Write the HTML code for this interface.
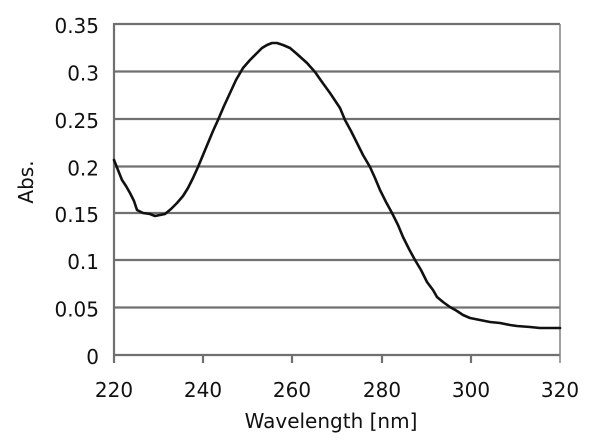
<!DOCTYPE html>
<html><head><meta charset="utf-8"><style>
html,body{margin:0;padding:0;background:#fff;}
svg{display:block;}
text{font-family:"DejaVu Sans","Liberation Sans",sans-serif;fill:#111;}
</style></head><body>
<svg width="600" height="447" viewBox="0 0 600 447" xmlns="http://www.w3.org/2000/svg">
<rect x="0" y="0" width="600" height="447" fill="#fff"/>
<g stroke="#707070" stroke-width="2.2">
<line x1="114" y1="24" x2="560" y2="24"/>
<line x1="114" y1="71.5" x2="560" y2="71.5"/>
<line x1="114" y1="119" x2="560" y2="119"/>
<line x1="114" y1="166.5" x2="560" y2="166.5"/>
<line x1="114" y1="213" x2="560" y2="213"/>
<line x1="114" y1="260" x2="560" y2="260"/>
<line x1="114" y1="307.5" x2="560" y2="307.5"/>
<line x1="114" y1="355" x2="560" y2="355"/>
<line x1="114" y1="23" x2="114" y2="363"/>
<line x1="203" y1="355" x2="203" y2="363"/>
<line x1="292" y1="355" x2="292" y2="363"/>
<line x1="382" y1="355" x2="382" y2="363"/>
<line x1="471" y1="355" x2="471" y2="363"/>
</g>
<line x1="560" y1="24" x2="560" y2="363" stroke="#808080" stroke-width="1.5"/>
<polyline fill="none" stroke="#111" stroke-width="2.6" stroke-linejoin="round" stroke-linecap="round" points="114,160 118,170 122,180 126,186 130,193 134,201 137,210 143,213 150,214 155,216 160,215 165,214 171,209 177,203 183,196 188,188 193,178 198,167 203,155 208,143 213,131 218,120 224,106 230,93 236,80 243,68 250,60 257,53 262,48 267,45 272,43 277,43 283,45 290,48 297,54 307,63 315,72 322,82 330,93 336,102 340,108 345,120 351,131 357,143 363,155 370,167 375,178 380,190 386,202 392,213 398,225 403,237 409,249 415,260 421,270 427,282 433,290 437,297 443,302 450,307 457,311 463,315 470,318 480,320 490,322 500,323 510,325 517,326 530,327 540,328 560,328"/>
<g font-size="20" text-anchor="end">
<text x="99" y="33">0.35</text>
<text x="99" y="80.5">0.3</text>
<text x="99" y="128">0.25</text>
<text x="99" y="175.5">0.2</text>
<text x="99" y="222">0.15</text>
<text x="99" y="269">0.1</text>
<text x="99" y="316.5">0.05</text>
<text x="99" y="364">0</text>
</g>
<g font-size="20" text-anchor="middle">
<text x="114" y="397">220</text>
<text x="203" y="397">240</text>
<text x="292" y="397">260</text>
<text x="382" y="397">280</text>
<text x="471" y="397">300</text>
<text x="560" y="397">320</text>
<text x="331" y="428">Wavelength [nm]</text>
<text x="0" y="0" transform="translate(33,182) rotate(-90)">Abs.</text>
</g>
</svg>
</body></html>
